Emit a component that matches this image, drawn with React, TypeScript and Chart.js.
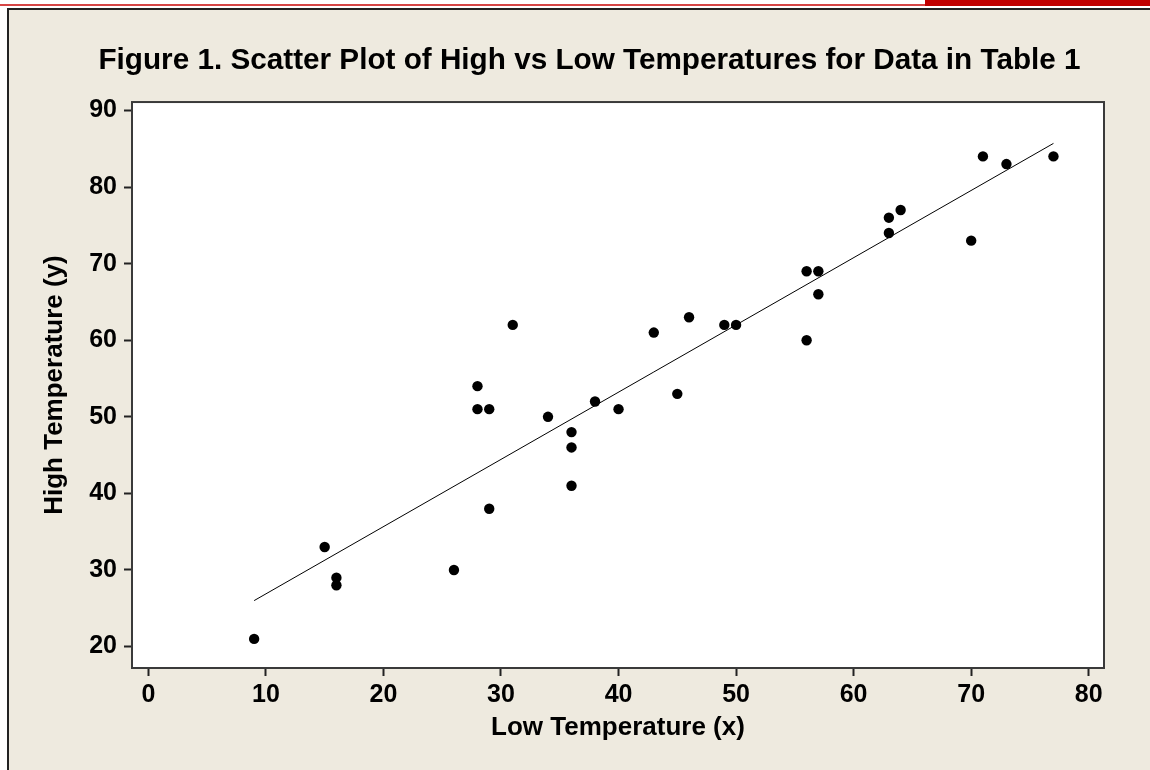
import React, { useEffect, useRef } from 'react';
import { Chart, registerables } from 'chart.js';

Chart.register(...registerables);

// ---- data ----
const lowTemps = [9, 15, 16, 16, 26, 28, 28, 29, 29, 31, 34, 36, 36, 36, 38, 40, 43, 45, 46, 49, 50, 56, 56, 57, 57, 63, 63, 64, 70, 71, 73, 77];
const highTemps = [21, 33, 29, 28, 30, 54, 51, 51, 38, 62, 50, 48, 46, 41, 52, 51, 61, 53, 63, 62, 62, 69, 60, 69, 66, 76, 74, 77, 73, 84, 83, 84];
const fitLineX = [9, 77];
const fitLineY = [26.0, 85.7];
const xTickValues = [0, 10, 20, 30, 40, 50, 60, 70, 80];
const yTickValues = [20, 30, 40, 50, 60, 70, 80, 90];

const titleText = 'Figure 1. Scatter Plot of High vs Low Temperatures for Data in Table 1';
const xTitle = 'Low Temperature (x)';
const yTitle = 'High Temperature (y)';

const FONT = '"Liberation Sans", Arial, Helvetica, sans-serif';

const plotFrame = {
  id: 'plotFrame',
  beforeDraw(chart: any) {
    const { ctx, chartArea: a } = chart;
    ctx.save();
    ctx.fillStyle = '#ffffff';
    ctx.fillRect(a.left, a.top, a.right - a.left, a.bottom - a.top);
    ctx.restore();
  },
  afterDraw(chart: any) {
    const { ctx, chartArea: a } = chart;
    ctx.save();
    ctx.strokeStyle = '#3a3a3a';
    ctx.lineWidth = 2;
    ctx.strokeRect(a.left, a.top, a.right - a.left, a.bottom - a.top);
    ctx.restore();
  },
};

export default function App() {
  const canvasRef = useRef<HTMLCanvasElement | null>(null);

  useEffect(() => {
    if (!canvasRef.current) return;
    Chart.defaults.font.family = FONT;
    const points = lowTemps.map((x, i) => ({ x, y: highTemps[i] }));
    const fit = fitLineX.map((x, i) => ({ x, y: fitLineY[i] }));

    const chart = new Chart(canvasRef.current, {
      type: 'scatter',
      data: {
        datasets: [
          {
            label: 'Observations',
            data: points,
            backgroundColor: '#000000',
            borderColor: '#000000',
            borderWidth: 0,
            pointRadius: 5.2,
            pointHoverRadius: 5.2,
            order: 0,
          },
          {
            label: 'Fit',
            data: fit,
            showLine: true,
            borderColor: '#000000',
            borderWidth: 1,
            pointRadius: 0,
            fill: false,
            order: 1,
          } as any,
        ],
      },
      options: {
        responsive: false,
        animation: false,
        devicePixelRatio: 1,
        events: [],
        layout: { padding: { left: 75, right: 46, top: 10, bottom: 0 } },
        plugins: {
          legend: { display: false },
          tooltip: { enabled: false },
          title: {
            display: true,
            text: titleText,
            color: '#000000',
            font: { size: 29.7, weight: 'bold', family: FONT },
            padding: { top: 33.2, bottom: 23.2 },
          },
        },
        scales: {
          x: {
            type: 'linear',
            min: -1.39,
            max: 81.3,
            afterBuildTicks: (s: any) => {
              s.ticks = xTickValues.map((v) => ({ value: v }));
            },
            afterFit: (s: any) => {
              s.height = 102;
            },
            border: { display: false },
            grid: {
              display: true,
              drawOnChartArea: false,
              drawTicks: true,
              tickLength: 8,
              tickWidth: 2,
              tickColor: '#222222',
            },
            ticks: {
              color: '#000000',
              font: { size: 25, weight: 'bold', family: FONT },
              padding: 4,
              autoSkip: false,
              maxRotation: 0,
            },
            title: {
              display: true,
              text: xTitle,
              color: '#000000',
              font: { size: 26, weight: 'bold', family: FONT },
              padding: { top: 0, bottom: 26.4 },
            },
          },
          y: {
            type: 'linear',
            min: 17.2,
            max: 91.1,
            afterBuildTicks: (s: any) => {
              s.ticks = yTickValues.map((v) => ({ value: v }));
            },
            afterFit: (s: any) => {
              s.width = 57;
            },
            border: { display: false },
            grid: {
              display: true,
              drawOnChartArea: false,
              drawTicks: true,
              tickLength: 8,
              tickWidth: 2,
              tickColor: '#222222',
            },
            ticks: {
              color: '#000000',
              font: { size: 25, weight: 'bold', family: FONT },
              padding: 7,
              autoSkip: false,
            },
            title: {
              display: true,
              text: yTitle,
              color: '#000000',
              font: { size: 26, weight: 'bold', family: FONT },
              padding: { top: -35.5, bottom: 0 },
            },
          },
        },
      },
      plugins: [plotFrame],
    });

    return () => chart.destroy();
  }, []);

  return (
    <div
      style={{
        position: 'fixed',
        left: 0,
        top: 0,
        width: 1150,
        height: 770,
        background: '#ffffff',
        overflow: 'hidden',
      }}
    >
      <div style={{ position: 'absolute', left: 0, top: 4, width: 925, height: 2, background: '#d64545' }} />
      <div style={{ position: 'absolute', left: 925, top: 0, width: 225, height: 6, background: '#c00000' }} />
      <div
        style={{
          position: 'absolute',
          left: 7,
          top: 8,
          width: 1150 - 7,
          height: 770 - 8,
          boxSizing: 'border-box',
          background: '#eeeadf',
          borderTop: '2px solid #222222',
          borderLeft: '2px solid #222222',
        }}
      />
      <canvas
        ref={canvasRef}
        width={1150}
        height={770}
        style={{ position: 'absolute', left: 0, top: 0, width: 1150, height: 770 }}
      />
    </div>
  );
}
